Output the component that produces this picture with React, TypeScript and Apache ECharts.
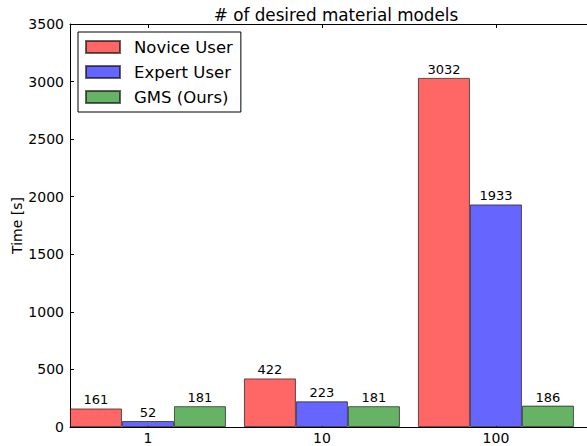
import React, { useEffect, useRef } from "react";
import * as echarts from "echarts";

const categories = ["1", "10", "100"];
const seriesNames = ["Novice User", "Expert User", "GMS (Ours)"];
const novice = [161, 422, 3032];
const expert = [52, 223, 1933];
const gms = [181, 181, 186];
const colors = ["#ff6666", "#6666ff", "#66b366"];
const yTicks = [0, 500, 1000, 1500, 2000, 2500, 3000, 3500];

export default function App() {
  const ref = useRef<HTMLDivElement>(null);
  useEffect(() => {
    const chart = echarts.init(ref.current!, null, { renderer: "svg" });
    const font = "DejaVu Sans";
    const values = [novice, expert, gms];
    const xMin = -0.448;
    const xMax = 2.552;
    const axisLine = { show: true, onZero: false, lineStyle: { color: "#000", width: 1 } };
    const tick = { show: true, inside: true, length: 4, lineStyle: { color: "#000" } };
    const xLabel = (v: number) => {
      const i = Math.round(v);
      return Math.abs(v - i) < 1e-6 && i >= 0 && i < categories.length ? categories[i] : "";
    };
    chart.setOption({
      animation: false,
      textStyle: { fontFamily: font },
      title: {
        text: "# of desired material models",
        left: 331,
        textAlign: "center",
        top: 1,
        textStyle: { fontFamily: font, fontSize: 16.8, fontWeight: "normal", color: "#000" },
      },
      legend: {
        orient: "vertical",
        left: 78,
        top: 32,
        data: seriesNames,
        itemWidth: 34,
        itemHeight: 12,
        itemGap: 5,
        padding: [5, 8, 5, 7],
        borderColor: "#000",
        borderWidth: 1,
        backgroundColor: "#fff",
        icon: "rect",
        textStyle: { fontFamily: font, fontSize: 16.5, color: "#000", lineHeight: 20, padding: [0, 0, 0, 9] },
      },
      grid: { left: 70, right: -5, top: 24, bottom: 19, containLabel: false, outerBoundsMode: "none" },
      xAxis: [
        {
          type: "value",
          min: xMin,
          max: xMax,
          splitNumber: 3,
          minInterval: 1,
          axisLine,
          axisTick: tick,
          splitLine: { show: false },
          axisLabel: {
            formatter: xLabel,
            color: "#000",
            fontSize: 14,
            lineHeight: 15,
            fontFamily: font,
            margin: 3,
            showMinLabel: false,
            showMaxLabel: false,
          },
        },
        {
          type: "value",
          position: "top",
          min: xMin,
          max: xMax,
          splitNumber: 3,
          minInterval: 1,
          axisLine,
          axisTick: tick,
          splitLine: { show: false },
          axisLabel: { show: false },
        },
      ],
      yAxis: [
        {
          type: "value",
          min: yTicks[0],
          max: yTicks[yTicks.length - 1],
          interval: 500,
          name: "Time [s]",
          nameLocation: "middle",
          nameGap: 46,
          nameMoveOverlap: false,
          nameTextStyle: { fontFamily: font, fontSize: 14, color: "#000" },
          axisLine,
          axisTick: tick,
          splitLine: { show: false },
          axisLabel: { color: "#000", fontSize: 14, fontFamily: font, margin: 6, formatter: (v: number) => String(v) },
        },
        {
          type: "value",
          position: "right",
          min: yTicks[0],
          max: yTicks[yTicks.length - 1],
          interval: 500,
          axisLine,
          axisTick: tick,
          splitLine: { show: false },
          axisLabel: { show: false },
        },
      ],
      series: seriesNames.map((name, s) => ({
        name,
        type: "bar",
        xAxisIndex: 0,
        yAxisIndex: 0,
        barWidth: 52,
        barGap: "0%",
        data: values[s].map((v, i) => [i, v]),
        itemStyle: { color: colors[s], borderColor: "rgba(0,0,0,0.6)", borderWidth: 1 },
        label: {
          show: true,
          position: "top",
          distance: 2,
          formatter: (p: any) => String(p.value[1]),
          fontFamily: font,
          fontSize: 13,
          color: "#000",
        },
      })),
    });
    return () => chart.dispose();
  }, []);
  return (
    <div
      ref={ref}
      style={{ position: "fixed", left: 0, top: 0, width: 587, height: 446, background: "#fff" }}
    />
  );
}
